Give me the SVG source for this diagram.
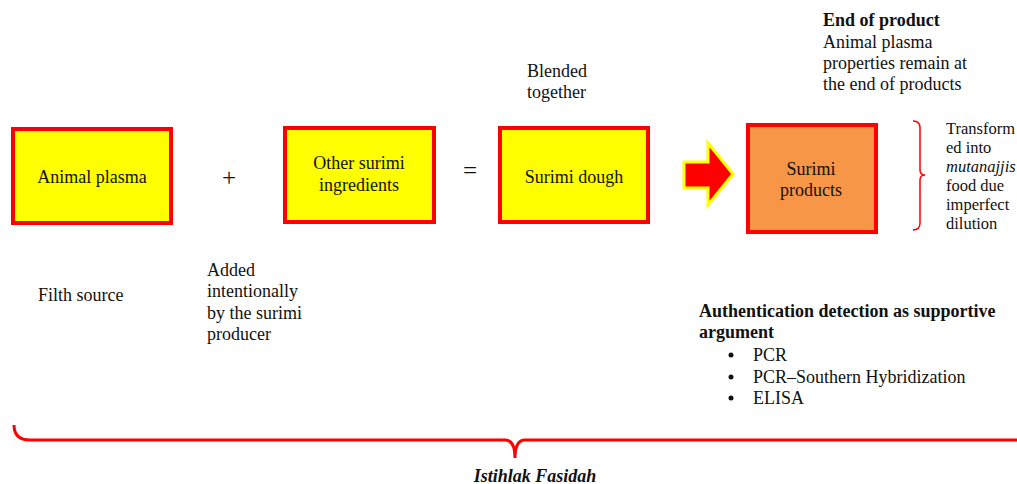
<svg xmlns="http://www.w3.org/2000/svg" width="1017" height="484" viewBox="0 0 1017 484">
  <defs>
    <style>
      .t { font-family: "Liberation Serif", "Times New Roman", serif; font-size: 18px; fill: #111; }
      .s { font-size: 16.5px; }
      .op { font-size: 25px; }
      .c { text-anchor: middle; }
      .b { font-weight: bold; }
      .i { font-style: italic; }
      .box { fill: #FFFF00; stroke: #FF0000; stroke-width: 4; }
      .prod { fill: #F79646; stroke: #FF0000; stroke-width: 4; }
      .brace { fill: none; stroke: #FF0000; }
    </style>
  </defs>
  <rect width="1017" height="484" fill="#fff"/>

  <!-- process boxes -->
  <g id="animal-plasma">
    <rect class="box" x="13" y="129" width="158" height="94"/>
    <text class="t c" x="92" y="183">Animal plasma</text>
  </g>
  <g id="plus">
    <text class="t op c" x="229" y="186">+</text>
  </g>
  <g id="other-ingredients">
    <rect class="box" x="285" y="128" width="149" height="94"/>
    <text class="t c" x="359" y="169">Other surimi</text>
    <text class="t c" x="359" y="191">ingredients</text>
  </g>
  <g id="equals">
    <text class="t op c" x="470" y="179">=</text>
  </g>
  <g id="surimi-dough">
    <rect class="box" x="500" y="128" width="148" height="94"/>
    <text class="t c" x="574" y="183">Surimi dough</text>
  </g>
  <g id="blended">
    <text class="t" x="527" y="77">Blended</text>
    <text class="t" x="527" y="98">together</text>
  </g>

  <!-- block arrow towards the products -->
  <g id="connectors">
    <path d="M684 162 L708 162 L708 143 L733 174 L708 205 L708 188 L684 188 Z" fill="#FF0000" stroke="#FFFF00" stroke-width="3" stroke-linejoin="miter"/>
  </g>

  <g id="surimi-products">
    <rect class="prod" x="748" y="125" width="128" height="107"/>
    <text class="t c" x="811" y="175">Surimi</text>
    <text class="t c" x="811" y="196">products</text>
  </g>

  <g id="end-of-product">
    <text class="t b" x="823" y="26">End of product</text>
    <text class="t" x="823" y="48">Animal plasma</text>
    <text class="t" x="823" y="69">properties remain at</text>
    <text class="t" x="823" y="90">the end of products</text>
  </g>

  <g id="transformed">
    <path class="brace" stroke-width="1.5" d="M913 121 Q920 121 920 128 L920 170 Q920 175 925 175 Q920 175 920 180 L920 223 Q920 230 913 230"/>
    <text class="t s" x="946" y="134">Transform</text>
    <text class="t s" x="946" y="153">ed into</text>
    <text class="t s i" x="946" y="172">mutanajjis</text>
    <text class="t s" x="946" y="191">food due</text>
    <text class="t s" x="946" y="210">imperfect</text>
    <text class="t s" x="946" y="229">dilution</text>
  </g>

  <g id="filth-source">
    <text class="t" x="38" y="301">Filth source</text>
  </g>
  <g id="added">
    <text class="t" x="207" y="276">Added</text>
    <text class="t" x="207" y="297">intentionally</text>
    <text class="t" x="207" y="319">by the surimi</text>
    <text class="t" x="207" y="340">producer</text>
  </g>

  <g id="authentication">
    <text class="t b" x="699" y="317">Authentication detection as supportive</text>
    <text class="t b" x="699" y="338">argument</text>
    <circle cx="731" cy="355" r="2.5" fill="#111"/>
    <circle cx="731" cy="377" r="2.5" fill="#111"/>
    <circle cx="731" cy="398" r="2.5" fill="#111"/>
    <text class="t" x="753" y="361">PCR</text>
    <text class="t" x="753" y="383">PCR–Southern Hybridization</text>
    <text class="t" x="753" y="404">ELISA</text>
  </g>

  <!-- brace spanning the whole process -->
  <g id="istihlak-fasidah">
    <path class="brace" stroke-width="3" d="M14 425 Q14 440 30 440 L505 440 Q515 440 515 458 Q515 440 525 440 L1017 440"/>
    <text class="t c b i" x="535" y="482">Istihlak Fasidah</text>
  </g>
</svg>
